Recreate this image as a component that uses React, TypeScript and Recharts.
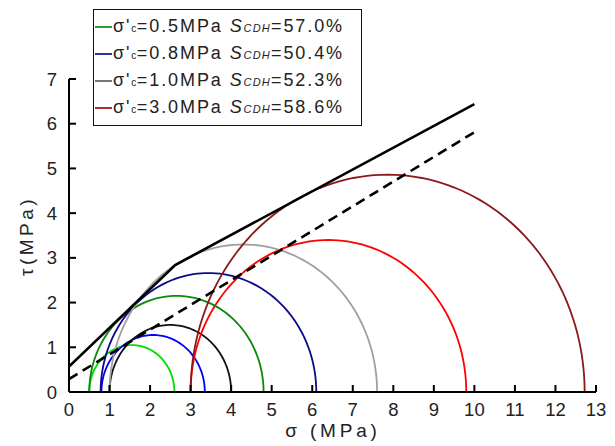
import React from 'react';
import { ComposedChart, Line, XAxis, YAxis, Legend } from 'recharts';

// Confining pressure groups
const groupLabels = ['0.5', '0.8', '1.0', '3.0'];
const scdhValues = ['57.0', '50.4', '52.3', '58.6'];
const legendColors = ['#2f9a2f', '#2f2f9e', '#777777', '#a83232'];

// Mohr circles: minor / major principal stress (MPa)
const smallSigma3 = [0.5, 0.8, 1.0, 3.0];
const smallSigma1 = [2.6, 3.35, 4.0, 9.8];
const smallColors = ['#00dd00', '#0000ff', '#111111', '#ff0000'];

const largeSigma3 = [0.5, 0.78, 1.0, 3.0];
const largeSigma1 = [4.8, 6.1, 7.6, 12.72];
const largeColors = ['#0a8a0a', '#0a0a8a', '#a0a0a0', '#8a1a1a'];

// Strength envelopes
const solidEnvelope = [
  { x: 0, y: 0.57 },
  { x: 2.62, y: 2.84 },
  { x: 10, y: 6.44 },
];
const dashedEnvelope = [
  { x: 0, y: 0.29 },
  { x: 10, y: 5.81 },
];

const xTicks = [0, 1, 2, 3, 4, 5, 6, 7, 8, 9, 10, 11, 12, 13];
const yTicks = [0, 1, 2, 3, 4, 5, 6, 7];

const FONT = "Arial, 'Liberation Sans', sans-serif";

function circlePoints(s3: number, s1: number) {
  const c = (s1 + s3) / 2;
  const r = (s1 - s3) / 2;
  const pts: { x: number; y: number }[] = [];
  for (let a = 180; a >= 0; a -= 2) {
    const t = (a * Math.PI) / 180;
    pts.push({ x: c + r * Math.cos(t), y: r * Math.sin(t) });
  }
  return pts;
}

const LegendBox = () => (
  <div
    style={{
      border: '1.5px solid #111',
      background: '#fff',
      width: 269,
      height: 117,
      boxSizing: 'border-box',
      paddingTop: 3,
      fontFamily: FONT,
      fontSize: 18,
      color: '#222',
    }}
  >
    {groupLabels.map((g, i) => (
      <div key={g} style={{ height: 27, display: 'flex', alignItems: 'center', whiteSpace: 'nowrap' }}>
        <span style={{ display: 'inline-block', width: 17, height: 2, background: legendColors[i], marginLeft: 1, marginRight: 1 }} />
        <span style={{ letterSpacing: 1.9 }}>
          σ'<span style={{ fontSize: 10, letterSpacing: 0.5 }}>c</span>={g}MPa{' '}
          <span style={{ fontStyle: 'italic' }}>S</span>
          <span style={{ fontStyle: 'italic', fontSize: 11, letterSpacing: 1.2 }}>CDH</span>={scdhValues[i]}%
        </span>
      </div>
    ))}
  </div>
);

const XTitle = () => (
  <text x={333} y={437} textAnchor="middle" fill="#222" fontSize={19} fontFamily={FONT} letterSpacing={3.8}>
    σ (MPa)
  </text>
);

const YTitle = () => (
  <text
    x={33}
    y={236}
    textAnchor="middle"
    transform="rotate(-90, 33, 236)"
    fill="#222"
    fontSize={19}
    fontFamily={FONT}
    letterSpacing={3.5}
  >
    τ(MPa)
  </text>
);

export default function App() {
  return (
    <div style={{ position: 'absolute', left: 0, top: 0, width: 615, height: 446, background: '#fff' }}>
      <ComposedChart
        width={615}
        height={446}
        margin={{ top: 79, right: 19, bottom: 0, left: 29 }}
      >
        <XAxis
          type="number"
          dataKey="x"
          domain={[0, 13]}
          ticks={xTicks}
          interval={0}
          allowDataOverflow
          height={54}
          stroke="#000"
          strokeWidth={2}
          tickSize={-7}
          tickMargin={18}
          tick={{ fill: '#222', fontSize: 18.5, fontFamily: FONT }}
          label={<XTitle />}
        />
        <YAxis
          type="number"
          domain={[0, 7]}
          ticks={yTicks}
          interval={0}
          allowDataOverflow
          width={40}
          stroke="#000"
          strokeWidth={2}
          tickSize={-7}
          tickMargin={19}
          tick={{ fill: '#222', fontSize: 18.5, fontFamily: FONT }}
          label={<YTitle />}
        />
        {smallSigma3.map((s3, i) => (
          <Line
            key={'s' + i}
            data={circlePoints(s3, smallSigma1[i])}
            dataKey="y"
            type="linear"
            stroke={smallColors[i]}
            strokeWidth={1.8}
            dot={false}
            isAnimationActive={false}
            legendType="none"
          />
        ))}
        {largeSigma3.map((s3, i) => (
          <Line
            key={'l' + i}
            data={circlePoints(s3, largeSigma1[i])}
            dataKey="y"
            type="linear"
            stroke={largeColors[i]}
            strokeWidth={1.8}
            dot={false}
            isAnimationActive={false}
            legendType="none"
          />
        ))}
        <Line
          data={solidEnvelope}
          dataKey="y"
          type="linear"
          stroke="#000"
          strokeWidth={2.6}
          dot={false}
          isAnimationActive={false}
          legendType="none"
        />
        <Line
          data={dashedEnvelope}
          dataKey="y"
          type="linear"
          stroke="#000"
          strokeWidth={2.6}
          strokeDasharray="10 6"
          dot={false}
          isAnimationActive={false}
          legendType="none"
        />
        <Legend
          layout="vertical"
          align="center"
          verticalAlign="middle"
          content={() => <LegendBox />}
          wrapperStyle={{ left: 93, top: 9, width: 269, height: 117 }}
        />
      </ComposedChart>
    </div>
  );
}
